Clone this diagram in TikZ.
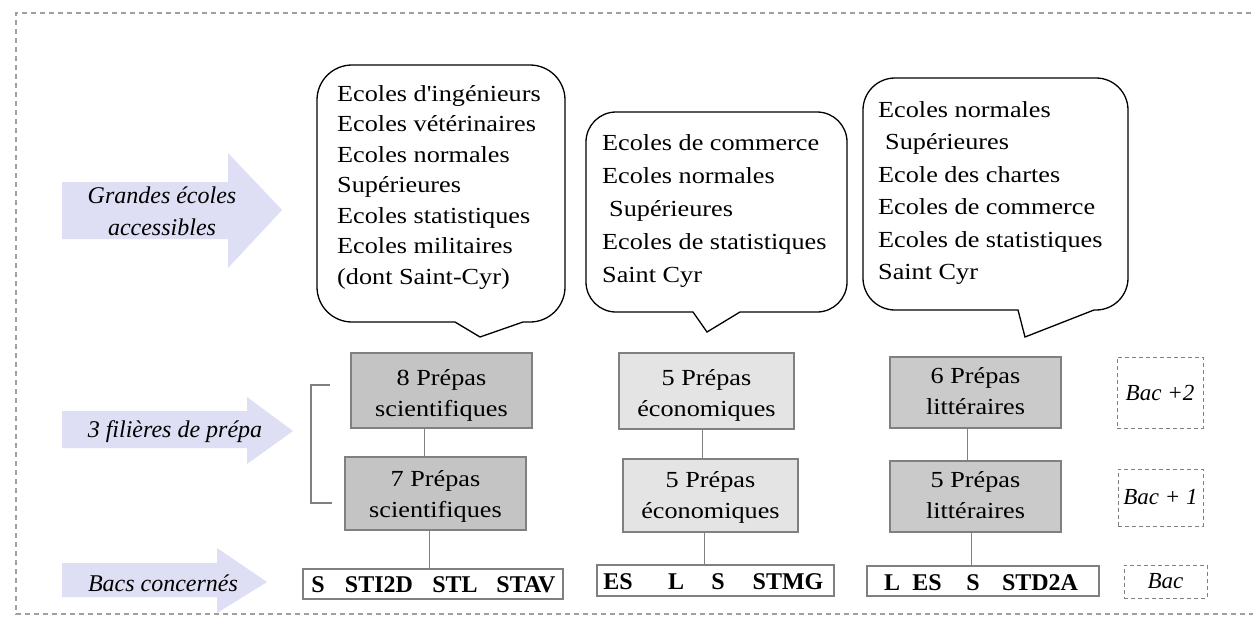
\documentclass[tikz,border=0pt]{standalone}
\usepackage{fontspec}
\setmainfont{Liberation Serif}
\newfontfamily\bubfont[FakeStretch=1.14]{Liberation Serif}
\usetikzlibrary{calc}
\definecolor{arrowc}{HTML}{DEDEF4}
\definecolor{scic}{HTML}{C4C4C4}
\definecolor{ecoc}{HTML}{E4E4E4}
\definecolor{litc}{HTML}{CACACA}
\definecolor{edgec}{HTML}{808080}
\definecolor{framec}{HTML}{A0A0A0}
\newcommand\mycallout[9]{%
 \draw[bubble] (#6,#4) -- (#7,#8) -- (#9,#4) -- ({#3-#5},#4)
 .. controls ({#3-0.448*#5},#4) and (#3,{#4-0.448*#5}) .. (#3,{#4-#5})
 -- (#3,{#2+#5})
 .. controls (#3,{#2+0.448*#5}) and ({#3-0.448*#5},#2) .. ({#3-#5},#2)
 -- ({#1+#5},#2)
 .. controls ({#1+0.448*#5},#2) and (#1,{#2+0.448*#5}) .. (#1,{#2+#5})
 -- (#1,{#4-#5})
 .. controls (#1,{#4-0.448*#5}) and ({#1+0.448*#5},#4) .. ({#1+#5},#4)
 -- cycle;}
\begin{document}
\begin{tikzpicture}[x=1pt,y=-1pt,
 frame/.style={draw=framec, line width=1.2pt, dash pattern=on 5pt off 4pt},
 band/.style={fill=arrowc},
 labeltxt/.style={font=\itshape\fontsize{24}{32}\selectfont, align=center, inner sep=0},
 bubble/.style={draw=black, fill=white, line width=1.3pt},
 bubtxt/.style={font=\bubfont\fontsize{23}{#1}\selectfont, align=left, inner sep=0, anchor=north west},
 prepbox/.style={draw=edgec, line width=1.2pt, inner sep=0},
 preptxt/.style={font=\bubfont\fontsize{23}{31}\selectfont, align=center, inner sep=0, anchor=north},
 link/.style={draw=edgec, line width=1.2pt},
 bacbox/.style={draw=edgec, line width=1.2pt, fill=white, inner sep=0},
 bactxt/.style={font=\bfseries\fontsize{24}{28}\selectfont, inner sep=0, anchor=base},
 levelbox/.style={draw=edgec, dash pattern=on 4pt off 3pt, line width=1pt, inner sep=0, font=\itshape\fontsize{23}{28}\selectfont}]
\useasboundingbox (0,0) rectangle (1253,621);
\fill[white] (0,0) rectangle (1253,621);
% frame
\draw[frame] (1260,13) -- (16,13) -- (16,614) -- (1260,614);
% left arrows
\fill[band] (62,182) -- (228,182) -- (228,153) -- (282,210) -- (228,268) -- (228,239) -- (62,239) -- cycle;
\fill[band] (62,411) -- (247,411) -- (247,397) -- (293,431) -- (247,464) -- (247,448) -- (62,448) -- cycle;
\fill[band] (62,563) -- (217,563) -- (217,548) -- (267,582) -- (217,613) -- (217,597) -- (62,597) -- cycle;
\node[labeltxt, anchor=north] (g1) at (162,186.6) {Grandes écoles\\accessibles};
\node[labeltxt, anchor=base] (g2) at (175,437) {3 filières de prépa};
\node[labeltxt, anchor=base] (g3) at (163,591) {Bacs concernés};
% callouts
\mycallout{317}{65}{565}{322}{35}{455}{480}{337}{523}
\mycallout{586}{112}{847}{312}{30}{693}{707}{332}{740}
\mycallout{863}{78}{1128}{310}{32}{1018}{1025}{337}{1094}
\node[bubtxt=30.5] (t1) at (337,85.3) {Ecoles d'ingénieurs\\Ecoles vétérinaires\\Ecoles normales\\Supérieures\\Ecoles statistiques\\Ecoles militaires\\(dont Saint-Cyr)};
\node[bubtxt=33] (t2) at (602,134.3) {Ecoles de commerce\\Ecoles normales\\\hspace*{7pt}Supérieures\\Ecoles de statistiques\\Saint Cyr};
\node[bubtxt=32.4] (t3) at (878,101.3) {Ecoles normales\\\hspace*{7pt}Supérieures\\Ecole des chartes\\Ecoles de commerce\\Ecoles de statistiques\\Saint Cyr};
% prepa boxes
\node[prepbox, fill=scic, minimum width=181pt, minimum height=75pt] (s1) at (441.5,390.5) {};
\node[prepbox, fill=scic, minimum width=181pt, minimum height=73pt] (s2) at (435.5,493.5) {};
\node[prepbox, fill=ecoc, minimum width=175pt, minimum height=76pt] (e1) at (706.5,391) {};
\node[prepbox, fill=ecoc, minimum width=175pt, minimum height=73pt] (e2) at (710.5,495.5) {};
\node[prepbox, fill=litc, minimum width=171pt, minimum height=71pt] (l1) at (975.5,392.5) {};
\node[prepbox, fill=litc, minimum width=171pt, minimum height=71pt] (l2) at (975.5,496.5) {};
\node[preptxt] (s1t) at (441.5,369.4) {8 Prépas\\scientifiques};
\node[preptxt] (s2t) at (435.5,470.4) {7 Prépas\\scientifiques};
\node[preptxt] (e1t) at (706.5,369.4) {5 Prépas\\économiques};
\node[preptxt] (e2t) at (710.5,471.4) {5 Prépas\\économiques};
\node[preptxt] (l1t) at (975.5,367.4) {6 Prépas\\littéraires};
\node[preptxt] (l2t) at (975.5,471.4) {5 Prépas\\littéraires};
% bac boxes
\node[bacbox, minimum width=260pt, minimum height=30pt] (b1) at (433,584) {};
\node[bacbox, minimum width=237pt, minimum height=31pt] (b2) at (715.5,580.5) {};
\node[bacbox, minimum width=232pt, minimum height=30pt] (b3) at (983,581) {};
\foreach \t/\x [count=\i] in {S/318, STI2D/379, STL/455, STAV/526}
  \node[bactxt] (b1w\i) at (\x,592) {\t};
\foreach \t/\x [count=\i] in {ES/618, L/676, S/718, STMG/788}
  \node[bactxt] (b2w\i) at (\x,589) {\t};
\foreach \t/\x [count=\i] in {L/892, ES/927, S/973, STD2A/1040}
  \node[bactxt] (b3w\i) at (\x,590) {\t};
% connectors
\draw[link] ($(s1.south west)+(74,0)$) -- ($(s2.north west)+(80,0)$);
\draw[link] ($(s2.south west)+(85,0)$) -- ($(b1.north west)+(127,0)$);
\draw[link] ($(e1.south west)+(84,0)$) -- ($(e2.north west)+(80,0)$);
\draw[link] ($(e2.south west)+(82,0)$) -- ($(b2.north west)+(108,0)$);
\draw[link] ($(l1.south west)+(78,0)$) -- ($(l2.north west)+(78,0)$);
\draw[link] ($(l2.south west)+(82,0)$) -- ($(b3.north west)+(105,0)$);
% bracket
\draw[link] (330,385) -- (311,385) -- (311,503) -- (332,503);
% level boxes
\node[levelbox, minimum width=86pt, minimum height=71pt] (d2) at (1160,392.5) {Bac +2};
\node[levelbox, minimum width=85pt, minimum height=57pt] (d1) at (1160.5,497.5) {Bac + 1};
\node[levelbox, minimum width=83pt, minimum height=33pt] (d0) at (1165.5,581.5) {Bac};
\end{tikzpicture}
\end{document}
